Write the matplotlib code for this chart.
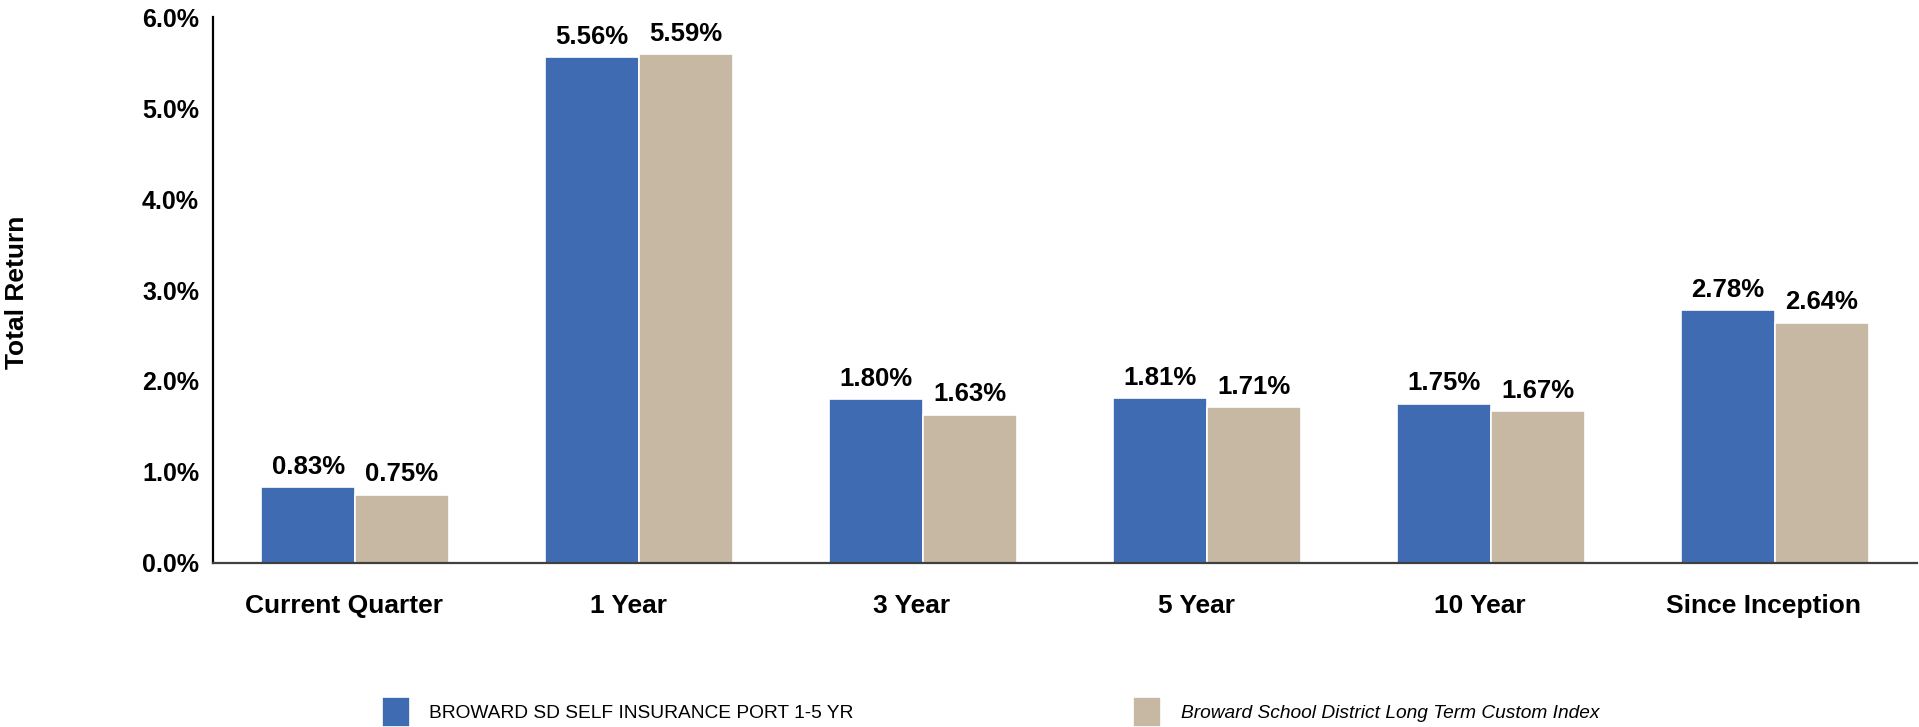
import matplotlib
matplotlib.use("Agg")
import matplotlib.pyplot as plt
import matplotlib.transforms as mtransforms
import numpy as np
from matplotlib.ticker import FuncFormatter

plt.rcParams["font.family"] = ["Liberation Sans", "DejaVu Sans"]

categories = ["Current Quarter", "1 Year", "3 Year", "5 Year", "10 Year", "Since Inception"]
portfolio = [0.83, 5.56, 1.80, 1.81, 1.75, 2.78]
benchmark = [0.75, 5.59, 1.63, 1.71, 1.67, 2.64]
series_names = ["BROWARD SD SELF INSURANCE PORT 1-5 YR",
                "Broward School District Long Term Custom Index"]

BLUE = "#3F6BB3"
TAN = "#C7B8A3"

fig = plt.figure(figsize=(19.19, 7.27), dpi=100)
ax = fig.add_axes([213 / 1919, 0.2256, 1704 / 1919, 0.751])

x = np.arange(len(categories))
w = 0.33
b1 = ax.bar(x - 0.165, portfolio, w, color=BLUE, edgecolor="white", linewidth=1.2, label=series_names[0])
b2 = ax.bar(x + 0.165, benchmark, w, color=TAN, edgecolor="white", linewidth=1.2, label=series_names[1])

for bars in (b1, b2):
    ax.bar_label(bars, labels=[f"{v:.2f}%" for v in bars.datavalues], padding=6,
                 fontsize=18.5, fontweight="bold")

ax.set_xlim(-0.5, len(categories) - 0.5)
ax.set_ylim(0, 6)
ax.set_yticks(np.arange(0, 6.1, 1))
ax.yaxis.set_major_formatter(FuncFormatter(lambda v, _: f"{v:.1f}%"))
ax.set_xticks(x)
ax.set_xticklabels(categories)
ax.tick_params(axis="y", length=0, pad=10, labelsize=18)
ax.tick_params(axis="x", length=0, pad=22, labelsize=19)
shift = mtransforms.ScaledTranslation(-0.11, 0, fig.dpi_scale_trans)
for lab in ax.get_xticklabels():
    lab.set_fontweight("bold")
    lab.set_transform(lab.get_transform() + shift)
for lab in ax.get_yticklabels():
    lab.set_fontweight("bold")

ax.spines["top"].set_visible(False)
ax.spines["right"].set_visible(False)
ax.spines["left"].set_color("black")
ax.spines["left"].set_linewidth(1.6)
ax.spines["bottom"].set_color("#404040")
ax.spines["bottom"].set_linewidth(1.6)

fig.text(17 / 1919, 1 - 292 / 727, "Total Return", rotation=90, ha="center", va="center",
         fontsize=19, fontweight="bold")

leg = fig.legend(handles=[b1, b2], loc="lower left", bbox_to_anchor=(382 / 1919, 0.0),
                 ncol=2, frameon=False, fontsize=13.8, borderpad=0, borderaxespad=0,
                 handlelength=1.46, handleheight=2.0, handletextpad=1.0, columnspacing=14.6)
leg.get_texts()[1].set_style("italic")

fig.savefig("out.png", dpi=100)
